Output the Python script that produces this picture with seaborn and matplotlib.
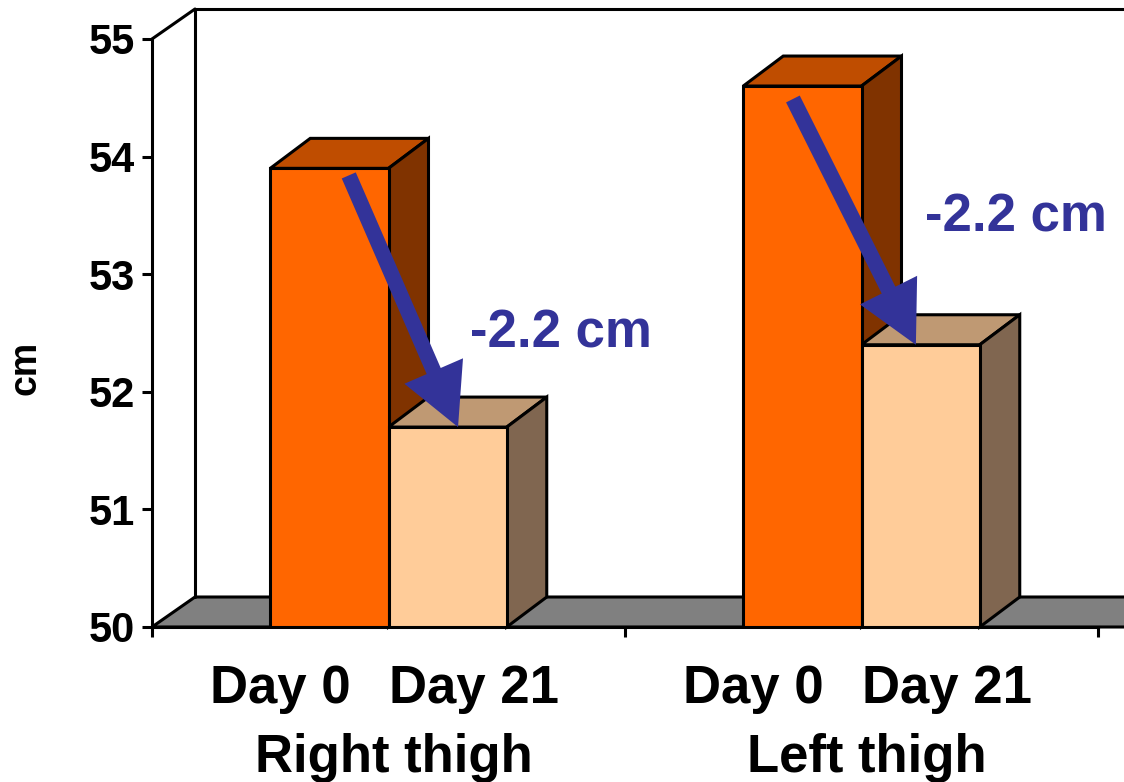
import seaborn as sns
import pandas as pd
import matplotlib.pyplot as plt
from matplotlib.patches import Polygon

# Data
thighs = ['Right thigh', 'Left thigh']
day_0 = [53.9, 54.6]
day_21 = [51.7, 52.4]
y_ticks = [50, 51, 52, 53, 54, 55]
change_label = '-2.2 cm'

sns.set_style('white')
plt.rcParams['font.family'] = ['Liberation Sans', 'DejaVu Sans']
plt.rcParams['font.weight'] = 'bold'
plt.rcParams['text.color'] = 'black'
plt.rcParams['axes.labelcolor'] = 'black'
plt.rcParams['xtick.color'] = 'black'
plt.rcParams['ytick.color'] = 'black'

df = pd.DataFrame({
    'thigh': thighs * 2,
    'day': ['Day 0'] * 2 + ['Day 21'] * 2,
    'cm': day_0 + day_21,
})

fig = plt.figure(figsize=(11.24, 7.82), dpi=100)
ax = fig.add_axes([152 / 1124, 155 / 782, 946 / 1124, 588 / 782])

lw = 2.2

# Front faces
sns.barplot(data=df, x='thigh', y='cm', hue='day', palette=['#FF6600', '#FFCC99'],
            saturation=1, width=0.5, gap=0, edgecolor='black', linewidth=lw, legend=False,
            zorder=3, ax=ax)
ax.set_xlim(-0.5, 1.5)
ax.set_ylim(50, 55)

# Fake 3D depth, in data units
dx = 40 / 473
dy = 30 / 117.6
wall_dx = 43 / 473
x_end = 1.56

line = dict(edgecolor='black', linewidth=lw, clip_on=False)

# Back wall and floor
ax.add_patch(Polygon([(-0.5, 50), (-0.5 + wall_dx, 50 + dy), (x_end + dx, 50 + dy), (x_end, 50)],
                     facecolor='#808080', zorder=1, **line))
ax.plot([-0.5 + wall_dx, -0.5 + wall_dx, x_end + dx], [50 + dy, 55 + dy, 55 + dy], color='black',
        lw=lw, clip_on=False, zorder=1)
ax.plot([-0.5, -0.5 + wall_dx], [55, 55 + dy], color='black', lw=lw, clip_on=False, zorder=1)

# Tops and sides of the bars
shades = [('#BF4D00', '#803300', 2), ('#BF9973', '#806650', 2.5)]
for container, (top_color, side_color, z) in zip(ax.containers, shades):
    for bar in container:
        x0 = bar.get_x()
        x1 = x0 + bar.get_width()
        h = bar.get_height()
        ax.add_patch(Polygon([(x0, h), (x0 + dx, h + dy), (x1 + dx, h + dy), (x1, h)],
                             facecolor=top_color, zorder=z, **line))
        ax.add_patch(Polygon([(x1, 50), (x1 + dx, 50 + dy), (x1 + dx, h + dy), (x1, h)],
                             facecolor=side_color, zorder=z, **line))

# Axes
sns.despine(ax=ax, top=True, right=True)
for side in ['left', 'bottom']:
    ax.spines[side].set_linewidth(lw)
    ax.spines[side].set_color('black')
    ax.spines[side].set_zorder(4)
ax.set_yticks(y_ticks)
ax.set_xticks([-0.5, 0.5, 1.5])
ax.set_xticklabels([])
ax.tick_params(axis='both', length=7, width=lw, color='black', left=True, bottom=True)
ax.tick_params(axis='y', labelsize=30, pad=5)
ax.set_xlabel('')
ax.set_ylabel('cm', fontsize=27, fontweight='bold', labelpad=33, y=0.44)

# Category labels below the axis
trans = ax.get_xaxis_transform()
for i, name in enumerate(thighs):
    ax.text(i - 0.228, -0.105, 'Day 0', transform=trans, ha='center', va='center', fontsize=38)
    ax.text(i + 0.18, -0.105, 'Day 21', transform=trans, ha='center', va='center', fontsize=38)
    ax.text(i + 0.012, -0.222, name, transform=trans, ha='center', va='center', fontsize=38)

# Change arrows and labels
arrows = [((-0.084, 53.84), (0.147, 51.7)), ((0.855, 54.49), (1.115, 52.4))]
for start, stop in arrows:
    ax.annotate('', xy=stop, xytext=start, zorder=5,
                arrowprops=dict(facecolor='#333399', edgecolor='#333399', width=11,
                                headwidth=46, headlength=44, shrink=0, linewidth=0))
ax.text(0.172, 52.5, change_label, color='#333399', fontsize=38, va='center', zorder=5)
ax.text(1.135, 53.48, change_label, color='#333399', fontsize=38, va='center', zorder=5)

plt.savefig('out.png', dpi=100)
plt.close()
